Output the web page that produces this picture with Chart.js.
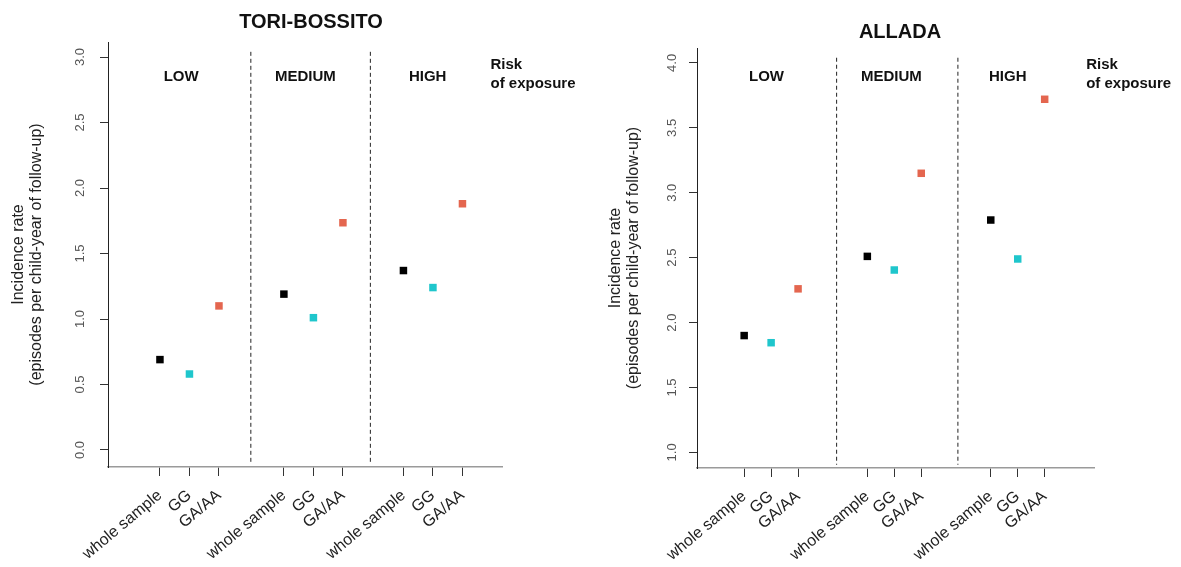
<!DOCTYPE html>
<html>
<head>
<meta charset="utf-8">
<script src="https://cdn.jsdelivr.net/npm/chart.js@4.4.1/dist/chart.umd.min.js"></script>
<style>
  html, body { margin: 0; padding: 0; background: #ffffff; }
  #wrap { position: relative; width: 1181px; height: 567px; overflow: hidden; }
  canvas { position: absolute; top: 0; }
  #tori { left: 0; }
  #allada { left: 590px; }
</style>
</head>
<body>
<div id="wrap">
  <canvas id="tori" width="590" height="567"></canvas>
  <canvas id="allada" width="591" height="567"></canvas>
</div>
<script>
// Incidence rate (episodes per child-year of follow-up) by risk of exposure and genotype
const riskLevels = ['LOW', 'MEDIUM', 'HIGH'];
const genotypeLabels = ['whole sample', 'GG', 'GA/AA'];

const toriWhole = [0.69, 1.19, 1.37];
const toriGG = [0.58, 1.01, 1.24];
const toriGAAA = [1.10, 1.735, 1.88];

const alladaWhole = [1.90, 2.51, 2.79];
const alladaGG = [1.845, 2.405, 2.49];
const alladaGAAA = [2.26, 3.15, 3.72];

const toriYTicks = [0, 0.5, 1, 1.5, 2, 2.5, 3];
const alladaYTicks = [1, 1.5, 2, 2.5, 3, 3.5, 4];

const yTitle = ['Incidence rate', '(episodes per child-year of follow-up)'];
const riskCaption = ['Risk', 'of exposure'];

const FONT = "'Liberation Sans', Arial, Helvetica, sans-serif";
const seriesColors = ['#000000', '#1fc6cc', '#e4664f'];

// Panel geometry (axis ranges in data units, frame sizes in px)
const toriPanel = {
  title: 'TORI-BOSSITO',
  values: [toriWhole, toriGG, toriGAAA],
  yTicks: toriYTicks,
  groupStart: [1, 5.2, 9.25],
  dividers: [4.08, 8.13],
  xMin: -0.76, xMax: 12.59,
  yMin: -0.13, yMax: 3.115,
  divTop: 3.04, divBottom: -0.1,
  frame: { yAxisWidth: 108, right: 88, top: 42, xAxisHeight: 100 },
  yTitlePad: 9, yTickPad: 11,
  titleX: 311, titleY: 22,
  labelX: [1.72, 5.93, 10.07], labelY: 76.5,
  riskX: 12.2
};

const alladaPanel = {
  title: 'ALLADA',
  values: [alladaWhole, alladaGG, alladaGAAA],
  yTicks: alladaYTicks,
  groupStart: [1, 5.57, 10.15],
  dividers: [4.43, 8.93],
  xMin: -0.75, xMax: 13.98,
  yMin: 0.88, yMax: 4.115,
  divTop: 4.04, divBottom: 0.905,
  frame: { yAxisWidth: 107, right: 87, top: 48, xAxisHeight: 99 },
  yTitlePad: 16, yTickPad: 8,
  titleX: 310, titleY: 32,
  labelX: [1.83, 6.46, 10.78], labelY: 76.5,
  riskX: 13.69
};

// Title, exposure-group headings and the "Risk of exposure" caption
const panelTextPlugin = {
  id: 'panelText',
  afterDraw(chart, args, opts) {
    const p = opts.panel;
    const ctx = chart.ctx;
    const xs = chart.scales.x;
    ctx.save();
    ctx.fillStyle = '#111';
    ctx.textBaseline = 'middle';
    ctx.textAlign = 'center';
    ctx.font = 'bold 20px ' + FONT;
    ctx.fillText(p.title, p.titleX, p.titleY);
    ctx.font = 'bold 15px ' + FONT;
    riskLevels.forEach((lvl, i) => {
      ctx.fillText(lvl, xs.getPixelForValue(p.labelX[i]), p.labelY);
    });
    ctx.textAlign = 'left';
    const rx = xs.getPixelForValue(p.riskX);
    ctx.fillText(riskCaption[0], rx, 65);
    ctx.fillText(riskCaption[1], rx, 84);
    ctx.restore();
  }
};

function buildChart(canvasId, p) {
  const tickPositions = [];
  p.groupStart.forEach(s => genotypeLabels.forEach((g, j) => tickPositions.push(s + j)));

  const pointSets = genotypeLabels.map((g, j) => ({
    label: g,
    data: p.values[j].map((v, i) => ({ x: p.groupStart[i] + j, y: v })),
    backgroundColor: seriesColors[j],
    borderWidth: 0,
    pointStyle: 'rect',
    pointRadius: 5.3,
    pointHoverRadius: 5.3,
    order: 0
  }));

  const dividerSets = p.dividers.map(d => ({
    type: 'line',
    label: 'divider',
    data: [{ x: d, y: p.divTop }, { x: d, y: p.divBottom }],
    borderColor: '#222',
    borderWidth: 1,
    borderDash: [4, 3],
    pointRadius: 0,
    fill: false,
    order: 1
  }));

  return new Chart(document.getElementById(canvasId), {
    type: 'scatter',
    data: { datasets: [...pointSets, ...dividerSets] },
    plugins: [panelTextPlugin],
    options: {
      responsive: false,
      animation: false,
      events: [],
      layout: { padding: { left: 0, right: p.frame.right, top: p.frame.top, bottom: 0 } },
      plugins: {
        legend: { display: false },
        tooltip: { enabled: false },
        panelText: { panel: p }
      },
      scales: {
        x: {
          type: 'linear',
          position: 'bottom',
          min: p.xMin,
          max: p.xMax,
          afterBuildTicks: s => { s.ticks = tickPositions.map(v => ({ value: v })); },
          afterFit: s => { s.height = p.frame.xAxisHeight; },
          ticks: {
            autoSkip: false,
            minRotation: 40,
            maxRotation: 40,
            padding: 10,
            color: '#222',
            font: { family: FONT, size: 16 },
            callback: (v, i) => genotypeLabels[i % 3]
          },
          grid: { drawOnChartArea: false, drawTicks: true, tickLength: 9, color: '#333', lineWidth: 1 },
          border: { display: true, color: '#9a9a9a', width: 1.5 }
        },
        y: {
          type: 'linear',
          position: 'left',
          min: p.yMin,
          max: p.yMax,
          afterBuildTicks: s => { s.ticks = p.yTicks.map(v => ({ value: v })); },
          afterFit: s => { s.width = p.frame.yAxisWidth; },
          ticks: {
            minRotation: 90,
            maxRotation: 90,
            crossAlign: 'center',
            padding: p.yTickPad,
            color: '#555',
            font: { family: FONT, size: 13 },
            callback: v => v.toFixed(1)
          },
          grid: { drawOnChartArea: false, drawTicks: true, tickLength: 8, color: '#333', lineWidth: 1 },
          border: { display: true, color: '#222', width: 1 },
          title: {
            display: true,
            text: yTitle,
            color: '#222',
            font: { family: FONT, size: 16, lineHeight: 1.15 },
            padding: { top: p.yTitlePad, bottom: 0 }
          }
        }
      }
    }
  });
}

buildChart('tori', toriPanel);
buildChart('allada', alladaPanel);
</script>
</body>
</html>
